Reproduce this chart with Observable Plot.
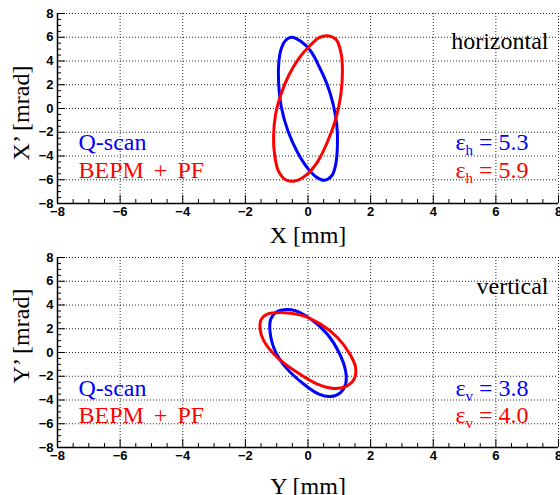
<!DOCTYPE html>
<html><head><meta charset="utf-8">
<script src="https://cdn.jsdelivr.net/npm/d3@7"></script>
<script src="https://cdn.jsdelivr.net/npm/@observablehq/plot@0.6"></script>
<style>
body{margin:0;background:#fff;width:560px;height:495px;overflow:hidden}
#chart svg{display:block}
</style></head><body><div id="chart"></div>
<script>
// ---- data ----
const majorTicks = [-8, -6, -4, -2, 0, 2, 4, 6, 8];
const minorTicks = [-7.5,-7,-6.5,-5.5,-5,-4.5,-3.5,-3,-2.5,-1.5,-1,-0.5,0.5,1,1.5,2.5,3,3.5,4.5,5,5.5,6.5,7,7.5];
const seriesNames = ["Q-scan", "BEPM + PF"];
const seriesColors = ["#0000ff", "#ff0000"];

// horizontal phase space: X [mm], X' [mrad]
const hQscanX  = [-0.53,-0.23, 0.09, 0.35, 0.62, 0.81, 0.92, 0.94, 0.88, 0.76, 0.52, 0.28,-0.02,-0.34,-0.64,-0.85,-0.94,-0.93,-0.85,-0.72];
const hQscanXp = [ 6.00, 5.66, 4.82, 3.56, 1.97, 0.28,-1.41,-3.10,-4.79,-5.66,-6.04,-5.80,-5.00,-3.66,-1.90, 0.10, 2.25, 3.94, 5.07, 5.72];
const hPfX     = [ 0.62, 0.90, 1.06, 1.10, 1.05, 0.89, 0.62, 0.30,-0.07,-0.42,-0.70,-0.94,-1.07,-1.10,-1.04,-0.87,-0.61,-0.29, 0.08, 0.36];
const hPfXp    = [ 6.12, 5.80, 4.60, 3.10, 1.20,-0.85,-2.82,-4.51,-5.63,-6.10,-6.02,-5.30,-3.80,-2.40,-0.56, 1.13, 2.82, 4.23, 5.35, 5.97];
const hEps = ["5.3", "5.9"];

// vertical phase space: Y [mm], Y' [mrad]
const vQscanY  = [-0.71,-0.39, 0.09, 0.62, 0.99, 1.20, 1.20, 1.04, 0.72, 0.35,-0.13,-0.66,-1.03,-1.21,-1.19,-1.03];
const vQscanYp = [ 3.62, 3.51, 2.81, 1.54, 0.00,-1.54,-2.67,-3.37,-3.71,-3.51,-2.67,-1.40, 0.00, 1.69, 2.81, 3.37];
const vPfY     = [-1.30,-0.87,-0.23, 0.40, 0.94, 1.34, 1.52, 1.47, 1.20, 0.83, 0.30,-0.34,-0.98,-1.41,-1.53,-1.49];
const vPfYp    = [ 3.23, 3.37, 3.15, 2.39, 1.26,-0.14,-1.26,-2.25,-2.87,-3.03,-2.67,-1.69,-0.42, 0.98, 1.97, 2.81];
const vEps = ["3.8", "4.0"];

const SERIF = "'Liberation Serif', 'Times New Roman', serif";
const SANS = "'Liberation Sans', Arial, sans-serif";

function panel(o) {
  const W = 560, ml = 57, mr = 2;
  const frameW = W - ml - mr, frameH = o.height - o.mt - o.mb;
  const q = o.qX.map((x, i) => ({x, y: o.qY[i]}));
  const p = o.pX.map((x, i) => ({x, y: o.pY[i]}));
  const gridStyle = {stroke: "#000", strokeOpacity: 0.85, strokeWidth: 1, strokeDasharray: "1,2"};
  const serifText = {fontFamily: SERIF, fontSize: 24, lineAnchor: "bottom"};
  return Plot.plot({
    width: W, height: o.height,
    marginLeft: ml, marginRight: mr, marginTop: o.mt, marginBottom: o.mb,
    x: {domain: [-8, 8]},
    y: {domain: [-8, 8]},
    style: {background: "white", overflow: "visible"},
    marks: [
      Plot.gridX(majorTicks.slice(1), gridStyle),
      Plot.gridY(majorTicks.slice(1), gridStyle),
      Plot.line(q, {x: "x", y: "y", curve: "catmull-rom-closed", stroke: seriesColors[0], strokeWidth: 3}),
      Plot.line(p, {x: "x", y: "y", curve: "catmull-rom-closed", stroke: seriesColors[1], strokeWidth: 3}),
      Plot.tickX(majorTicks, {x: d => d, insetTop: frameH - 8, stroke: "#000"}),
      Plot.tickX(minorTicks, {x: d => d, insetTop: frameH - 4, stroke: "#000"}),
      Plot.tickY(majorTicks, {y: d => d, insetRight: frameW - 8, stroke: "#000"}),
      Plot.tickY(minorTicks, {y: d => d, insetRight: frameW - 4, stroke: "#000"}),
      Plot.ruleX([-8], {stroke: "#000", strokeWidth: 1.5}),
      Plot.ruleY([-8], {stroke: "#000", strokeWidth: 1.5}),
      Plot.axisX(majorTicks, {tickSize: 0, tickPadding: 3, label: null, fontFamily: SANS, fontSize: 13, fontWeight: "bold", fill: "#000"}),
      Plot.axisY(majorTicks, {tickSize: 0, tickPadding: 4, label: null, fontFamily: SANS, fontSize: 13, fontWeight: "bold", fill: "#000"}),
      Plot.text([o.xLabel], {frameAnchor: "bottom", dy: o.xTitleDy, ...serifText, fill: "#000"}),
      Plot.text([o.yLabel], {frameAnchor: "left", rotate: -90, textAnchor: "middle", dx: -29, dy: o.yTitleDy, ...serifText, fill: "#000"}),
      Plot.text([o.title], {frameAnchor: "top-right", textAnchor: "end", dx: -10, dy: o.titleDy, ...serifText, fill: "#000"}),
      Plot.text([seriesNames[0]], {frameAnchor: "top-left", textAnchor: "start", dx: 21, dy: o.row1, ...serifText, fill: seriesColors[0]}),
      Plot.text([seriesNames[1]], {frameAnchor: "top-left", textAnchor: "start", dx: 21, dy: o.row2, ...serifText, fill: seriesColors[1]}),
      Plot.text([`ε${o.sub} = ${o.eps[0]}`], {frameAnchor: "top-right", textAnchor: "end", dx: -30, dy: o.row1, ...serifText, fill: seriesColors[0]}),
      Plot.text([`ε${o.sub} = ${o.eps[1]}`], {frameAnchor: "top-right", textAnchor: "end", dx: -30, dy: o.row2, ...serifText, fill: seriesColors[1]})
    ]
  });
}

function fixText(svg) {
  d3.select(svg).selectAll("text").each(function () {
    const t = this.textContent;
    const m = /^ε([hv]) (= .*)$/.exec(t);
    if (m) {
      const sel = d3.select(this);
      sel.text(null);
      sel.append("tspan").text("ε");
      sel.append("tspan").attr("dy", 5).attr("font-size", 15).text(m[1]);
      sel.append("tspan").attr("dy", -5).text(" " + m[2]);
    }
    if (t === "BEPM + PF") d3.select(this).style("word-spacing", "4px");
  });
  return svg;
}

const chart = document.getElementById("chart");
chart.append(fixText(panel({
  height: 245, mt: 13, mb: 42,
  qX: hQscanX, qY: hQscanXp, pX: hPfX, pY: hPfXp,
  xLabel: "X [mm]", yLabel: "X’ [mrad]", title: "horizontal", sub: "h", eps: hEps,
  xTitleDy: 39.5, yTitleDy: 4.5, titleDy: 35, row1: 136, row2: 164
})));
chart.append(fixText(panel({
  height: 250, mt: 12, mb: 48,
  qX: vQscanY, qY: vQscanYp, pX: vPfY, pY: vPfYp,
  xLabel: "Y [mm]", yLabel: "Y’ [mrad]", title: "vertical", sub: "v", eps: vEps,
  xTitleDy: 46, yTitleDy: -16.5, titleDy: 36, row1: 138, row2: 165
})));
</script>
</body></html>
